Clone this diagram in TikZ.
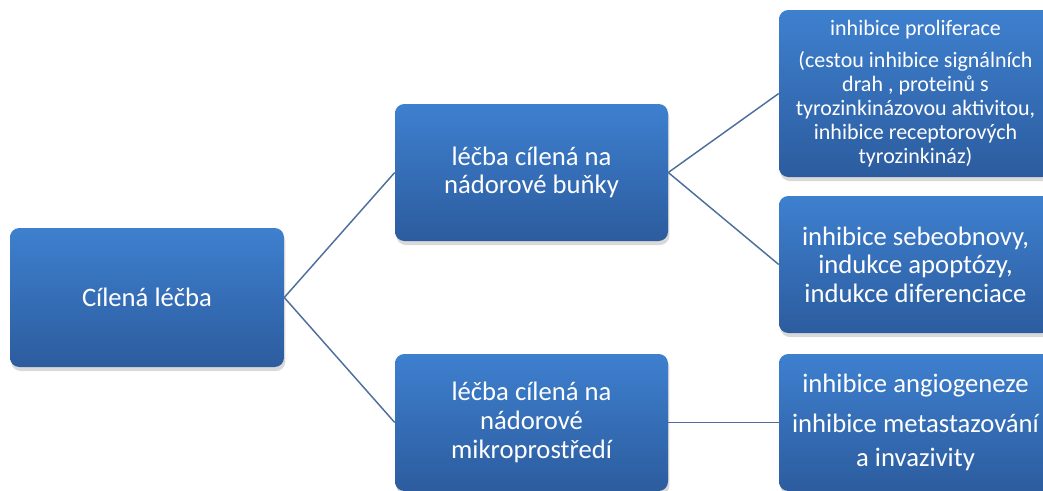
\documentclass[tikz,border=0pt]{standalone}
\usepackage{fontspec}
\setmainfont{Carlito}
\usetikzlibrary{shadows}
\definecolor{boxtop}{HTML}{3E80CF}
\definecolor{boxbot}{HTML}{2C5C9E}
\definecolor{linkblue}{HTML}{4E6E9C}
\tikzset{
  box/.style={rectangle, rounded corners=7pt, top color=boxtop, bottom color=boxbot,
    text=white, inner sep=0pt, align=center, minimum width=204.75pt,
    drop shadow={opacity=0.3, shadow xshift=1pt, shadow yshift=-3pt}},
  big/.style={font=\fontsize{20}{21.5}\selectfont},
  small/.style={font=\fontsize{16.5}{18}\selectfont},
  link/.style={draw=linkblue, line width=1.1pt}
}
\begin{document}
\begin{tikzpicture}[x=0.75pt,y=0.75pt,yscale=-1,xscale=1]
  \useasboundingbox (0,0) rectangle (1043,490);
  \clip (0,0) rectangle (1043,490);
  % levels
  \node[box, big, minimum width=205.5pt, minimum height=104.25pt] (root) at (147,297.5) {Cílená léčba};
  \node[box, big, minimum height=102.75pt] (cells) at (531.5,172.5) {léčba cílená na\\nádorové buňky};
  \node[box, big, minimum height=102.75pt] (micro) at (531.5,422.5) {léčba cílená na\\nádorové\\mikroprostředí};
  \node[box, small, minimum height=125.25pt] (prolif) at (915.5,93.5) {inhibice proliferace\\[6pt](cestou inhibice signálních\\drah , proteinů s\\tyrozinkinázovou aktivitou,\\inhibice receptorových\\tyrozinkináz)};
  \node[box, big, minimum height=102.75pt] (renew) at (915.5,264.5) {inhibice sebeobnovy,\\indukce apoptózy,\\indukce diferenciace};
  \node[box, big, minimum height=102.75pt, font=\fontsize{20}{25}\selectfont] (angio) at (915.5,422.5) {inhibice angiogeneze\\[5pt]inhibice metastazování\\a invazivity};
  % connectors
  \draw[link] (root.east) -- (cells.west);
  \draw[link] (root.east) -- (micro.west);
  \draw[link] (cells.east) -- (prolif.west);
  \draw[link] (cells.east) -- (renew.west);
  \draw[link] (micro.east) -- (angio.west);
\end{tikzpicture}
\end{document}
